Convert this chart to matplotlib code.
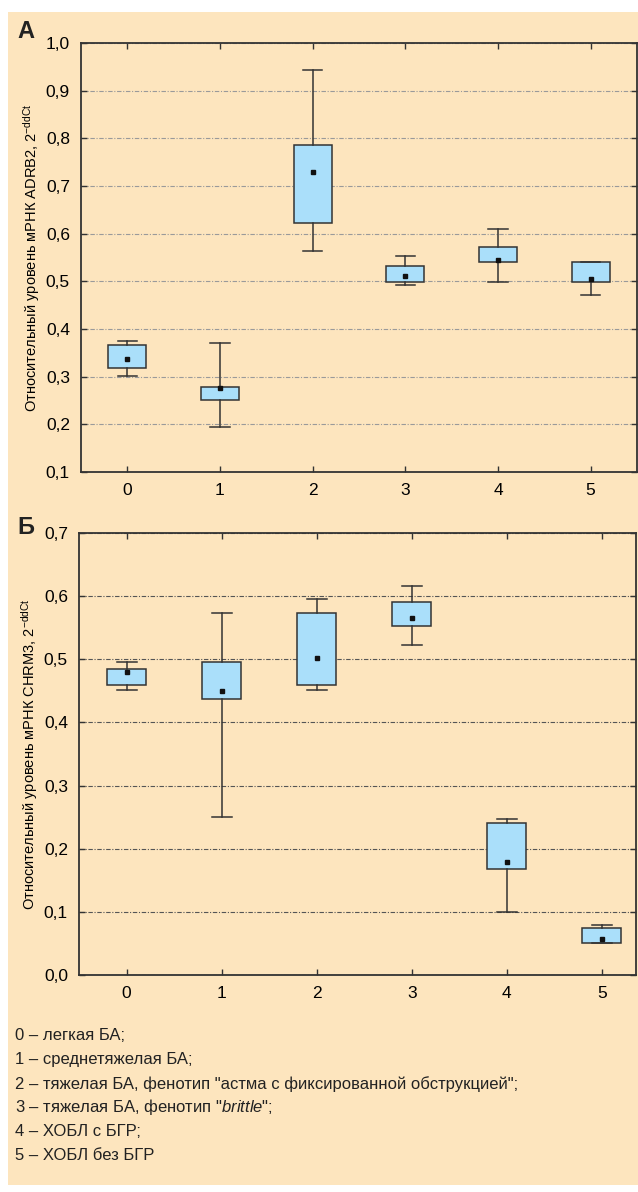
import numpy as np
import matplotlib
matplotlib.use('Agg')
import matplotlib.pyplot as plt
from matplotlib.patches import Rectangle
from matplotlib.ticker import FuncFormatter

plt.rcParams['font.family'] = ['Liberation Sans', 'DejaVu Sans']
plt.rcParams['mathtext.fontset'] = 'custom'
plt.rcParams['mathtext.rm'] = 'Liberation Sans'
plt.rcParams['mathtext.it'] = 'Liberation Sans:italic'

groups = [0, 1, 2, 3, 4, 5]

# panel A: ADRB2
a_whislo = [0.302, 0.194, 0.564, 0.492, 0.499, 0.471]
a_q1 = [0.319, 0.251, 0.622, 0.499, 0.540, 0.499]
a_med = [0.338, 0.276, 0.729, 0.512, 0.545, 0.504]
a_q3 = [0.367, 0.278, 0.786, 0.533, 0.573, 0.540]
a_whishi = [0.375, 0.371, 0.943, 0.553, 0.609, 0.541]

# panel B: CHRM3
b_whislo = [0.451, 0.251, 0.451, 0.523, 0.100, 0.050]
b_q1 = [0.459, 0.437, 0.459, 0.552, 0.168, 0.050]
b_med = [0.480, 0.449, 0.502, 0.565, 0.179, 0.057]
b_q3 = [0.484, 0.495, 0.573, 0.591, 0.240, 0.075]
b_whishi = [0.495, 0.573, 0.595, 0.616, 0.247, 0.079]

legend_lines = [
    '0 – легкая БА;',
    '1 – среднетяжелая БА;',
    '2 – тяжелая БА, фенотип "астма с фиксированной обструкцией";',
    '3 – тяжелая БА, фенотип "$\\it{brittle}$";',
    '4 – ХОБЛ с БГР;',
    '5 – ХОБЛ без БГР',
]

BG = '#fde5be'
BOX = '#aadffa'
EDGE = '#333333'

W, H = 638, 1192
fig = plt.figure(figsize=(W / 100, H / 100), dpi=100)
fig.patch.set_facecolor('white')
fig.patches.append(Rectangle((8 / W, 7 / H), 1 - 8 / W, 1 - 19 / H,
                             transform=fig.transFigure, facecolor=BG,
                             edgecolor='none', zorder=-10))


def panel(rect, lo, q1, med, q3, hi, ylim, yticks, xlim, ylabel, gridcol):
    ax = fig.add_axes(rect)
    ax.set_facecolor(BG)
    stats = []
    for i in range(len(groups)):
        stats.append(dict(whislo=lo[i], q1=q1[i], med=med[i], q3=q3[i],
                          whishi=hi[i], fliers=[]))
    ax.bxp(stats, positions=groups, widths=0.41, patch_artist=True,
           showfliers=False, capwidths=0.21,
           boxprops=dict(facecolor=BOX, edgecolor=EDGE, linewidth=1.1),
           whiskerprops=dict(color=EDGE, linewidth=1.1),
           capprops=dict(color=EDGE, linewidth=1.1),
           medianprops=dict(linewidth=0), zorder=3)
    ax.plot(groups, med, 's', color='#111111', markersize=3.2, zorder=4)
    ax.set_xlim(*xlim)
    ax.set_ylim(*ylim)
    ax.set_yticks(yticks)
    ax.set_xticks(groups)
    ax.set_xticklabels([str(g) for g in groups])
    ax.yaxis.set_major_formatter(FuncFormatter(lambda v, p: f'{v:.1f}'.replace('.', ',')))
    ax.yaxis.grid(True, color=gridcol, linestyle=(0, (4, 1.5, 1, 1.5)), linewidth=0.8, zorder=1)
    ax.set_axisbelow(True)
    ax.tick_params(direction='in', top=True, right=True, length=4, width=1,
                   color=EDGE, labelsize=12.5, pad=8)
    for s in ax.spines.values():
        s.set_color(EDGE)
        s.set_linewidth(1.3)
    ax.set_ylabel(ylabel, fontsize=10.5, labelpad=2.5)
    return ax


axA = panel([81 / W, 1 - 472 / H, 556 / W, 429 / H], a_whislo, a_q1, a_med, a_q3, a_whishi,
            (0.1, 1.0), np.arange(0.1, 1.01, 0.1), (-0.5, 5.5),
            'Относительный уровень мРНК ADRB2, 2$^{\\mathregular{-ddCt}}$', '#9a9a9a')
axB = panel([79 / W, 1 - 975 / H, 557 / W, 442 / H], b_whislo, b_q1, b_med, b_q3, b_whishi,
            (0.0, 0.7), np.arange(0.0, 0.71, 0.1), (-0.5, 5.36),
            'Относительный уровень мРНК CHRM3, 2$^{\\mathregular{-ddCt}}$', '#555555')

fig.text(17 / W, 1 - 31 / H, 'А', fontsize=17, fontweight='bold',
         va='center', ha='left', color='#222222')
fig.text(17 / W, 1 - 527 / H, 'Б', fontsize=17, fontweight='bold',
         va='center', ha='left', color='#222222')

for i, line in enumerate(legend_lines):
    fig.text(15 / W, 1 - (1036 + i * 23.8) / H, line, fontsize=12, va='center', ha='left',
             color='#222222')

fig.savefig('out.png', dpi=100, facecolor='white')
